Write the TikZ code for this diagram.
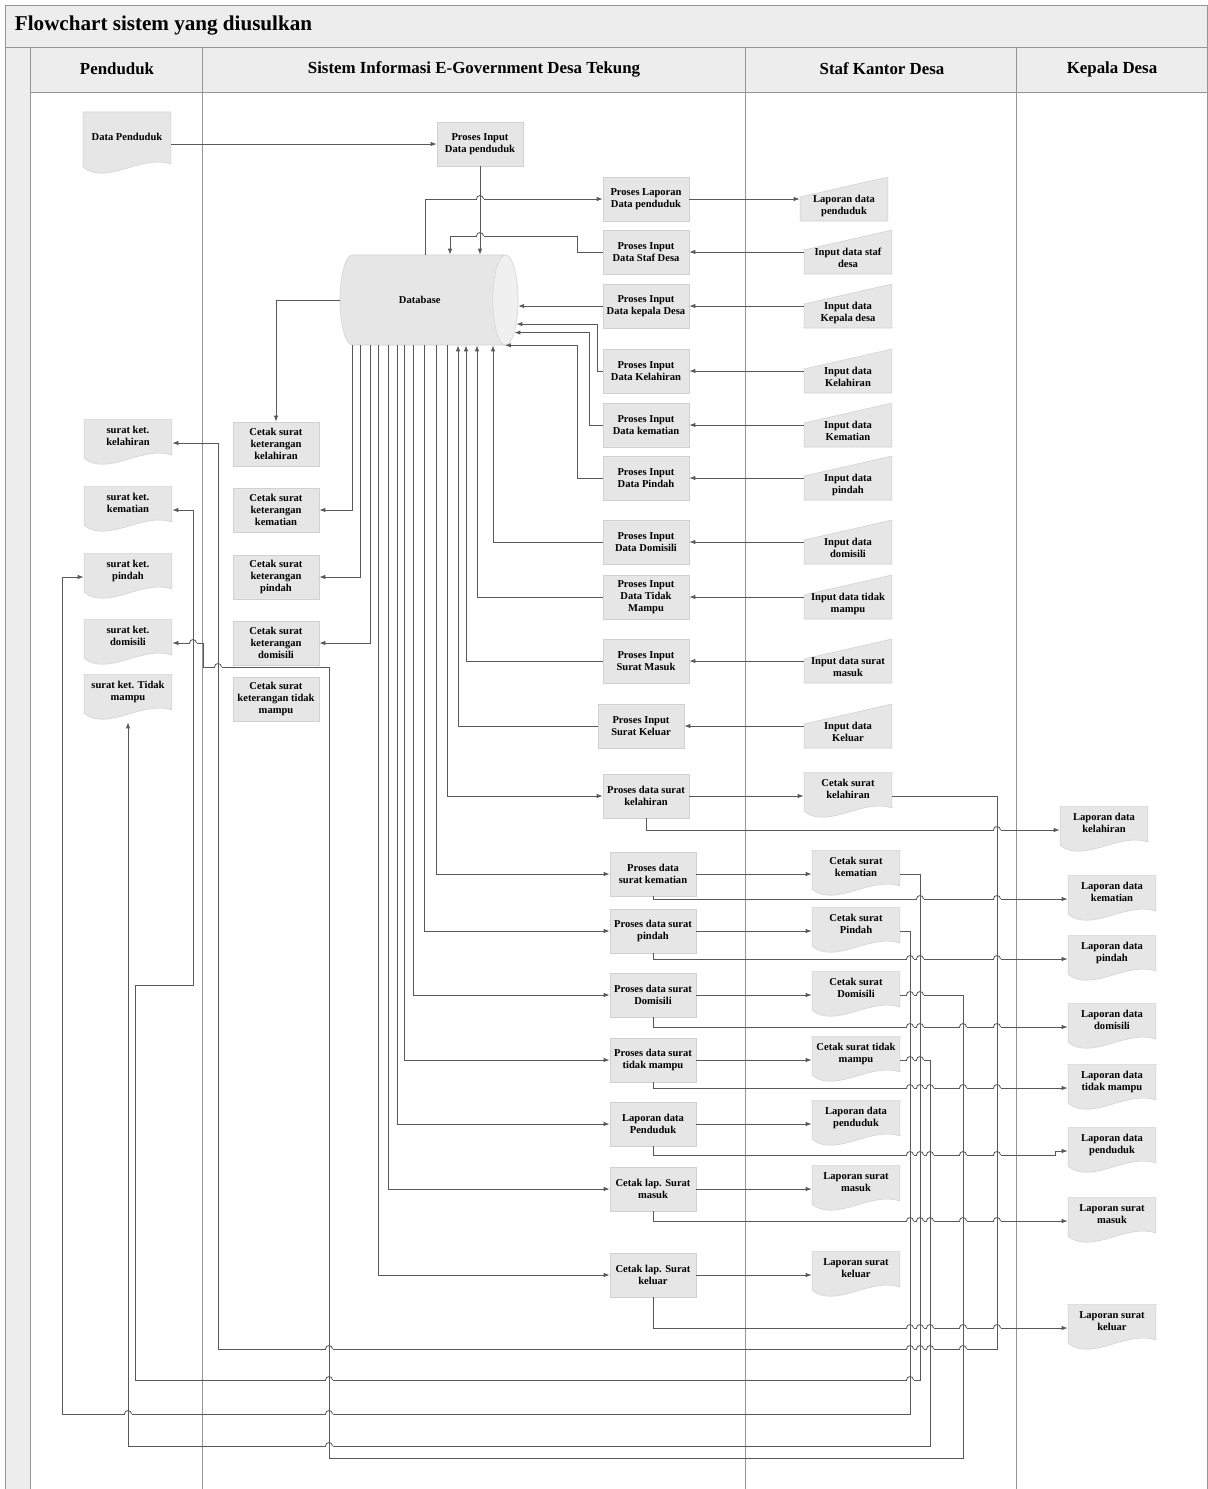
\documentclass[tikz,border=0pt]{standalone}
\usepackage{fontspec}
\setmainfont{Liberation Serif}
\usetikzlibrary{positioning,shapes.geometric,arrows.meta}
\definecolor{boxfill}{HTML}{E6E6E6}
\definecolor{lanefill}{HTML}{EDEDED}
\definecolor{laneline}{HTML}{959595}
\newcommand\flowfont{\fontsize{7.5}{8.5}\selectfont\bfseries}
% text in document shapes sits a little high, in input shapes a little low
\newcommand\docstack[1]{\raisebox{0.15cm}[\height][\depth]{\begin{tabular}{@{}c@{}}#1\end{tabular}}}
\newcommand\inputstack[1]{\raisebox{-0.18cm}[\height][\depth]{\begin{tabular}{@{}c@{}}#1\end{tabular}}}

\begin{document}
\begin{tikzpicture}[x=0.025cm, y=-0.025cm,
      proc/.style={rectangle, draw=black!18, fill=boxfill, minimum width=2.15cm,
                   minimum height=1.1cm, inner sep=1pt, align=center, font=\flowfont},
      doc/.style={rectangle, minimum width=2.2cm, minimum height=1.2cm, inner sep=1pt,
                  font=\flowfont,
                  path picture={\filldraw[fill=boxfill, draw=black!18]
                    ([yshift=0.22cm]path picture bounding box.south west)
                    .. controls ([xshift=0.6cm,yshift=-0.25cm]path picture bounding box.south west)
                    and ([xshift=-0.75cm,yshift=0.55cm]path picture bounding box.south east)
                    .. ([yshift=0.3cm]path picture bounding box.south east)
                    -- (path picture bounding box.north east)
                    -- (path picture bounding box.north west) -- cycle;}},
      manin/.style={rectangle, minimum width=2.2cm, minimum height=1.1cm, inner sep=1pt,
                    font=\flowfont,
                    path picture={\filldraw[fill=boxfill, draw=black!18]
                      (path picture bounding box.south west)
                      -- ([yshift=-0.5cm]path picture bounding box.north west)
                      -- (path picture bounding box.north east)
                      -- (path picture bounding box.south east) -- cycle;}},
      lanehead/.style={font=\fontsize{12}{14}\selectfont\bfseries},
      line/.style={draw=black!65, line width=0.6pt},
      arr/.style={line, -{Latex[length=1.5mm,width=1.1mm]}}]
    \useasboundingbox (0,0) rectangle (1208,1489);

    % swimlanes
    \fill[lanefill] (5,5) rectangle (1207,47);
    \fill[lanefill] (5,47) rectangle (30,1489);
    \fill[lanefill] (30,47) rectangle (1207,92);
    \draw[laneline] (5,5) rectangle (1207,1489);
    \draw[laneline] (5,47) -- (1207,47);
    \draw[laneline] (30,92) -- (1207,92);
    \foreach \lx in {30,202,745,1016}
      \draw[laneline] (\lx,47) -- (\lx,1489);
    \node[anchor=west, font=\fontsize{15}{17}\selectfont\bfseries] (title) at (10,26) {Flowchart sistem yang diusulkan};
    \node[lanehead] (hpend) at (117,69) {Penduduk};
    \node[lanehead] (hsis) at (474,69) {Sistem Informasi E-Government Desa Tekung};
    \node[lanehead] (hstaf) at (882,69) {Staf Kantor Desa};
    \node[lanehead] (hkep) at (1112,69) {Kepala Desa};

    % penduduk
    \node[doc, minimum height=1.6cm] (dpend) at (127,144) {\docstack{Data Penduduk}};
    \node[doc] (skel) at (128,443) {\docstack{surat ket.\\ kelahiran}};
    \node[doc] (skem) at (128,510) {\docstack{surat ket.\\ kematian}};
    \node[doc] (spin) at (128,577) {\docstack{surat ket.\\ pindah}};
    \node[doc] (sdom) at (128,643) {\docstack{surat ket.\\ domisili}};
    \node[doc] (stdk) at (128,698) {\docstack{surat ket. Tidak\\ mampu}};

    % sistem
    \node[proc] (pinpend) at (480,144) {Proses Input\\ Data penduduk};
    \node[cylinder, aspect=1.5, draw=black!18, cylinder uses custom fill,
          cylinder body fill=boxfill, cylinder end fill=boxfill!60!white,
          minimum width=2.25cm, minimum height=4.45cm, font=\flowfont,
          anchor=shape center] (db) at (429,300) {Database};
    \node[proc] (cklh) at (276,444) {Cetak surat\\ keterangan\\ kelahiran};
    \node[proc] (ckem) at (276,510) {Cetak surat\\ keterangan\\ kematian};
    \node[proc] (cpin) at (276,577) {Cetak surat\\ keterangan\\ pindah};
    \node[proc] (cdom) at (276,643) {Cetak surat\\ keterangan\\ domisili};
    \node[proc] (ctdk) at (276,699) {Cetak surat\\ keterangan tidak\\ mampu};

    \node[proc] (plap) at (646,199) {Proses Laporan\\ Data penduduk};
    \node[proc] (pstaf) at (646,252) {Proses Input\\ Data Staf Desa};
    \node[proc] (pkep) at (646,306) {Proses Input\\ Data kepala Desa};
    \node[proc] (pklh) at (646,371) {Proses Input\\ Data Kelahiran};
    \node[proc] (pkem) at (646,425) {Proses Input\\ Data kematian};
    \node[proc] (ppin) at (646,478) {Proses Input\\ Data Pindah};
    \node[proc] (pdom) at (646,542) {Proses Input\\ Data Domisili};
    \node[proc] (ptdk) at (646,597) {Proses Input\\ Data Tidak\\ Mampu};
    \node[proc] (pmsk) at (646,661) {Proses Input\\ Surat Masuk};
    \node[proc] (pklr) at (641,726) {Proses Input\\ Surat Keluar};

    \node[proc] (pdklh) at (646,796) {Proses data surat\\ kelahiran};
    \node[proc] (pdkem) at (653,874) {Proses data\\ surat kematian};
    \node[proc] (pdpin) at (653,931) {Proses data surat\\ pindah};
    \node[proc] (pddom) at (653,995) {Proses data surat\\ Domisili};
    \node[proc] (pdtdk) at (653,1060) {Proses data surat\\ tidak mampu};
    \node[proc] (plpend) at (653,1124) {Laporan data\\ Penduduk};
    \node[proc] (pcmsk) at (653,1189) {Cetak lap. Surat\\ masuk};
    \node[proc] (pcklr) at (653,1275) {Cetak lap. Surat\\ keluar};

    % staf kantor desa
    \node[manin] (ilap) at (844,199) {\inputstack{Laporan data\\ penduduk}};
    \node[manin] (istaf) at (848,252) {\inputstack{Input data staf\\ desa}};
    \node[manin] (ikep) at (848,306) {\inputstack{Input data\\ Kepala desa}};
    \node[manin] (iklh) at (848,371) {\inputstack{Input data\\ Kelahiran}};
    \node[manin] (ikem) at (848,425) {\inputstack{Input data\\ Kematian}};
    \node[manin] (ipin) at (848,478) {\inputstack{Input data\\ pindah}};
    \node[manin] (idom) at (848,542) {\inputstack{Input data\\ domisili}};
    \node[manin] (itdk) at (848,597) {\inputstack{Input data tidak\\ mampu}};
    \node[manin] (imsk) at (848,661) {\inputstack{Input data surat\\ masuk}};
    \node[manin] (iklr) at (848,726) {\inputstack{Input data\\ Keluar}};

    \node[doc] (dcklh) at (848,796) {\docstack{Cetak surat\\ kelahiran}};
    \node[doc] (dckem) at (856,874) {\docstack{Cetak surat\\ kematian}};
    \node[doc] (dcpin) at (856,931) {\docstack{Cetak surat\\ Pindah}};
    \node[doc] (dcdom) at (856,995) {\docstack{Cetak surat\\ Domisili}};
    \node[doc] (dctdk) at (856,1060) {\docstack{Cetak surat tidak\\ mampu}};
    \node[doc] (dlpend) at (856,1124) {\docstack{Laporan data\\ penduduk}};
    \node[doc] (dlmsk) at (856,1189) {\docstack{Laporan surat\\ masuk}};
    \node[doc] (dlklr) at (856,1275) {\docstack{Laporan surat\\ keluar}};

    % kepala desa
    \node[doc] (kklh) at (1104,830) {\docstack{Laporan data\\ kelahiran}};
    \node[doc] (kkem) at (1112,899) {\docstack{Laporan data\\ kematian}};
    \node[doc] (kpin) at (1112,959) {\docstack{Laporan data\\ pindah}};
    \node[doc] (kdom) at (1112,1027) {\docstack{Laporan data\\ domisili}};
    \node[doc] (ktdk) at (1112,1088) {\docstack{Laporan data\\ tidak mampu}};
    \node[doc] (kpend) at (1112,1151) {\docstack{Laporan data\\ penduduk}};
    \node[doc] (kmsk) at (1112,1221) {\docstack{Laporan surat\\ masuk}};
    \node[doc] (kklr) at (1112,1328) {\docstack{Laporan surat\\ keluar}};

    % input ke database
    \draw[arr] (dpend) -- (pinpend);
    \draw[arr] (pinpend.south) -- (pinpend.south |- db.north);
    \draw[arr] (db.north -| 425,0) |- (plap.west);
    \draw[arr] (plap) -- (ilap);
    \draw[arr] (istaf) -- (pstaf);
    \draw[arr] (pstaf.west) -| (577,236) -| (db.north -| 450,0);
    \draw[arr] (ikep) -- (pkep);
    \draw[arr] (pkep.west) -- (pkep.west -| db.-4);
    \draw[arr] (iklh) -- (pklh);
    \draw[arr] (pklh.west) -- ++(-5,0) |- (db.-14);
    \draw[arr] (ikem) -- (pkem);
    \draw[arr] (pkem.west) -- ++(-13,0) |- (db.-19);
    \draw[arr] (ipin) -- (ppin);
    \draw[arr] (ppin.west) -- ++(-25,0) |- (db.-28);
    \draw[arr] (idom) -- (pdom);
    \draw[arr] (pdom.west) -| (db.south -| 493,0);
    \draw[arr] (itdk) -- (ptdk);
    \draw[arr] (ptdk.west) -| (db.south -| 477,0);
    \draw[arr] (imsk) -- (pmsk);
    \draw[arr] (pmsk.west) -| (db.south -| 466,0);
    \draw[arr] (iklr) -- (pklr);
    \draw[arr] (pklr.west) -| (db.south -| 458,0);

    % database ke cetak
    \draw[arr] (db.west) -| (cklh.north);
    \draw[arr] (db.south -| 352,0) |- (ckem.east);
    \draw[arr] (db.south -| 360,0) |- (cpin.east);
    \draw[arr] (db.south -| 370,0) |- (cdom.east);
    \draw[arr] (db.south -| 447,0) |- (pdklh.west);
    \draw[arr] (db.south -| 436,0) |- (pdkem.west);
    \draw[arr] (db.south -| 424,0) |- (pdpin.west);
    \draw[arr] (db.south -| 413,0) |- (pddom.west);
    \draw[arr] (db.south -| 404,0) |- (pdtdk.west);
    \draw[arr] (db.south -| 397,0) |- (plpend.west);
    \draw[arr] (db.south -| 388,0) |- (pcmsk.west);
    \draw[arr] (db.south -| 378,0) |- (pcklr.west);

    % proses ke staf dan kepala desa
    \draw[arr] (pdklh) -- (dcklh);
    \draw[arr] (pdkem) -- (dckem);
    \draw[arr] (pdpin) -- (dcpin);
    \draw[arr] (pddom) -- (dcdom);
    \draw[arr] (pdtdk) -- (dctdk);
    \draw[arr] (plpend) -- (dlpend);
    \draw[arr] (pcmsk) -- (dlmsk);
    \draw[arr] (pcklr) -- (dlklr);
    \draw[arr] (pdklh.south) |- (kklh.west);
    \draw[arr] (pdkem.south) |- (kkem.west);
    \draw[arr] (pdpin.south) |- (kpin.west);
    \draw[arr] (pddom.south) |- (kdom.west);
    \draw[arr] (pdtdk.south) |- (ktdk.west);
    \draw[arr] (plpend.south) |- (1055,1155) |- (kpend.west);
    \draw[arr] (pcmsk.south) |- (kmsk.west);
    \draw[arr] (pcklr.south) |- (kklr.west);

    % surat kembali ke penduduk
    \draw[arr] (dcklh.east) -| (997,1349) -| (218,443) -- (skel.east);
    \draw[arr] (dckem.east) -| (920,1380) -| (135,985) -| (193,510) -- (skem.east);
    \draw[arr] (dcpin.east) -| (910,1414) -| (62,577) -- (spin.west);
    \draw[arr] (dcdom.east) -| (963,1458) -| (329,667) -| (203,643) -- (sdom.east);
    \draw[arr] (dctdk.east) -| (930,1446) -| (stdk.south);

    % lompatan garis
    \foreach \hx/\hy in {480/199, 480/236, 193/643, 218/667,
        997/830, 997/899, 920/899, 997/959, 920/959, 910/959,
        997/1027, 920/1027, 910/1027, 963/1027, 910/995, 920/995, 910/1060, 920/1060,
        910/1088, 920/1088, 930/1088, 963/1088, 997/1088,
        910/1155, 920/1155, 930/1155, 963/1155, 997/1155,
        910/1221, 920/1221, 930/1221, 963/1221, 997/1221,
        910/1328, 920/1328, 930/1328, 963/1328, 997/1328,
        329/1349, 910/1349, 920/1349, 930/1349, 963/1349,
        329/1380, 910/1380, 128/1414, 329/1414, 329/1446} {
      \fill[white] (\hx-3.5,\hy-1) rectangle (\hx+3.5,\hy+1);
      \draw[line] (\hx,\hy-1.5) -- (\hx,\hy+1.5);
      \draw[line] (\hx-3.5,\hy) arc[start angle=180, end angle=360, radius=3.5];
    }
  \end{tikzpicture}
\end{document}
